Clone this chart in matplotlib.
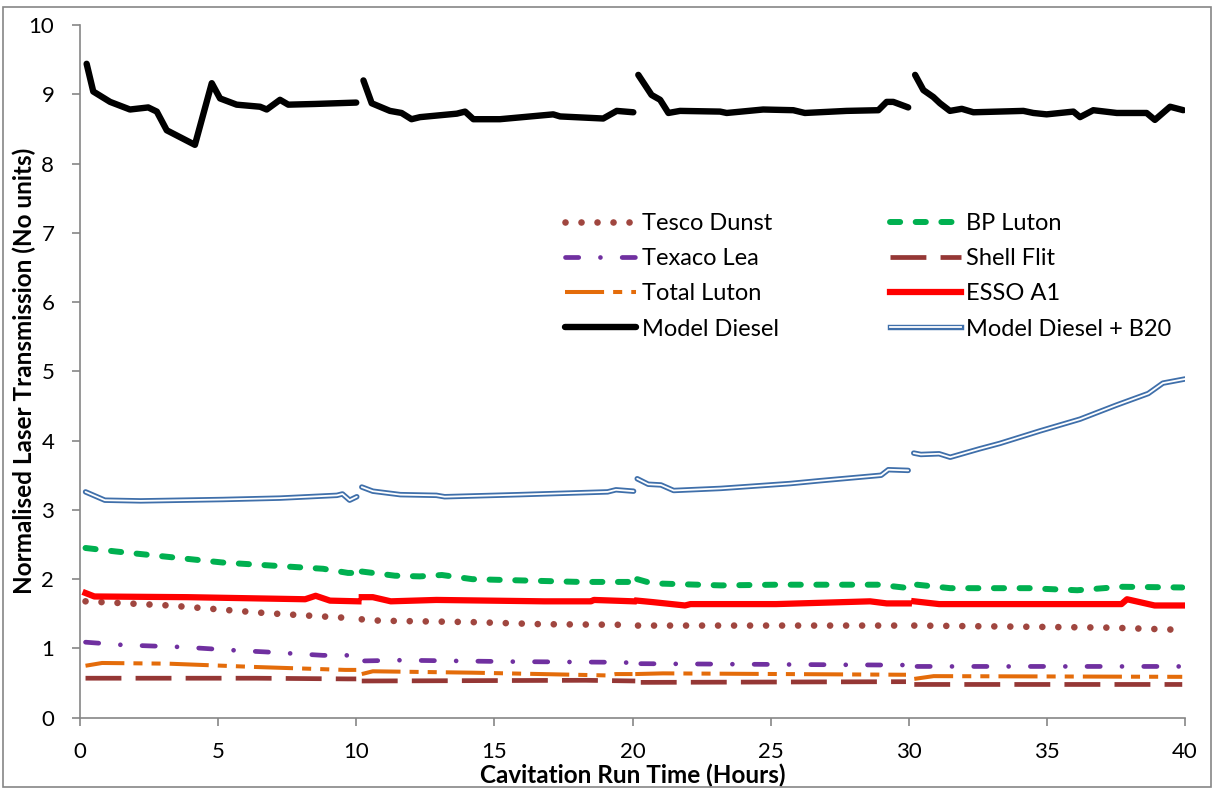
import numpy as np
import matplotlib
matplotlib.use("Agg")
import matplotlib.pyplot as plt
from matplotlib.lines import Line2D
from matplotlib.patches import Rectangle

plt.rcParams['font.family'] = ['Lato', 'DejaVu Sans']

nan = np.nan

# ---------------- data ----------------
tesco_x = [0.2, 3.23, 6.72, 9.7, 10.0, nan, 10.2, 10.86, 14.2, 16.7, 20.0, nan,
           20.2, 30.0, nan, 30.2, 37.3, 39.7]
tesco_y = [1.68, 1.62, 1.51, 1.44, 1.43, nan, 1.42, 1.40, 1.38, 1.35, 1.34, nan,
           1.33, 1.33, nan, 1.33, 1.30, 1.27]

bp_x = [0.2, 1.29, 5.17, 8.8, 9.7, 10.0, nan, 10.2, 11.4, 12.3, 13.1, 14.2, 18.1, 20.0, nan,
        20.17, 20.7, 23.2, 25.2, 28.9, 29.8, 30.0, nan, 30.3, 31.5, 34.4, 34.9, 36.1, 37.7, 39.9]
bp_y = [2.45, 2.40, 2.24, 2.15, 2.09, 2.09, nan, 2.11, 2.05, 2.04, 2.06, 2.00, 1.96, 1.96, nan,
        2.00, 1.94, 1.91, 1.92, 1.92, 1.88, 1.88, nan, 1.92, 1.87, 1.87, 1.86, 1.84, 1.89, 1.88]

texaco_x = [0.2, 1.55, 3.7, 5.7, 6.7, 8.8, 10.0, nan, 10.3, 11.6, 15.5, 19.6, 20.0, nan,
            20.3, 29.3, 30.0, nan, 30.3, 39.8]
texaco_y = [1.09, 1.05, 1.02, 0.97, 0.95, 0.90, 0.90, nan, 0.82, 0.83, 0.81, 0.80, 0.79, nan,
            0.78, 0.76, 0.76, nan, 0.74, 0.74]

shell_x = [0.2, 6.4, 9.7, 10.0, nan, 10.2, 18.3, 20.1, nan, 20.3, 29.9, nan, 30.2, 39.9]
shell_y = [0.57, 0.57, 0.56, 0.56, nan, 0.53, 0.54, 0.53, nan, 0.51, 0.52, nan, 0.48, 0.48]

total_x = [0.2, 0.8, 3.2, 6.5, 9.6, 10.0, nan, 10.2, 10.6, 14.2, 16.7, 19.1, 19.4, 20.0, nan,
           20.1, 21.1, 29.9, nan, 30.2, 30.9, 39.9]
total_y = [0.75, 0.79, 0.78, 0.73, 0.69, 0.69, nan, 0.63, 0.67, 0.65, 0.63, 0.61, 0.63, 0.63, nan,
           0.63, 0.64, 0.62, nan, 0.56, 0.60, 0.59]

esso_x = [0.2, 0.52, 3.9, 8.15, 8.53, 9.05, 10.08, nan, 10.2, 10.6, 11.25, 12.9, 16.8, 18.5, 18.6,
          20.04, nan, 20.17, 20.7, 21.9, 22.1, 25.2, 28.6, 29.2, 30.0, nan, 30.2, 31.1, 37.7, 37.9,
          38.9, 40.0]
esso_y = [1.80, 1.75, 1.74, 1.71, 1.76, 1.69, 1.68, nan, 1.74, 1.74, 1.68, 1.70, 1.68, 1.68, 1.70,
          1.68, nan, 1.69, 1.67, 1.62, 1.64, 1.64, 1.68, 1.65, 1.65, nan, 1.68, 1.64, 1.64, 1.71,
          1.62, 1.62]

model_x = [0.24, 0.48, 1.09, 1.81, 2.47, 2.78, 3.14, 4.16, 4.77, 5.07, 5.67, 6.52, 6.76, 7.24,
           7.54, 8.5, 10.0, nan,
           10.26, 10.56, 11.22, 11.64, 12.0, 12.31, 13.64, 13.94, 14.24, 15.2, 17.13, 17.38,
           18.94, 19.43, 20.03, nan,
           20.21, 20.69, 21.0, 21.3, 21.72, 23.17, 23.41, 24.73, 25.82, 26.24, 27.75, 28.9,
           29.2, 29.44, 29.98, nan,
           30.23, 30.53, 30.89, 31.13, 31.49, 31.92, 32.34, 34.15, 34.51, 34.99, 35.96, 36.2,
           36.68, 37.53, 38.61, 38.91, 39.46, 39.94]
model_y = [9.44, 9.04, 8.89, 8.78, 8.81, 8.75, 8.48, 8.27, 9.16, 8.94, 8.85, 8.82, 8.78, 8.92,
           8.85, 8.86, 8.88, nan,
           9.20, 8.87, 8.76, 8.73, 8.64, 8.67, 8.72, 8.75, 8.64, 8.64, 8.71, 8.68,
           8.65, 8.76, 8.74, nan,
           9.28, 8.99, 8.92, 8.73, 8.76, 8.75, 8.73, 8.78, 8.77, 8.73, 8.76, 8.77,
           8.89, 8.89, 8.81, nan,
           9.28, 9.06, 8.96, 8.87, 8.76, 8.79, 8.74, 8.76, 8.73, 8.71, 8.75, 8.67,
           8.77, 8.73, 8.73, 8.63, 8.82, 8.77]

b20_x = [0.2, 0.9, 2.2, 5.17, 7.24, 9.3, 9.5, 9.76, 10.02, nan,
         10.2, 10.6, 11.6, 12.9, 13.2, 15.9, 19.1, 19.4, 20.04, nan,
         20.17, 20.57, 21.03, 21.49, 23.2, 25.7, 26.75, 29.0, 29.26, 29.98, nan,
         30.18, 30.44, 31.1, 31.5, 32.55, 33.3, 34.75, 36.2, 37.5, 38.67, 39.2, 40.0]
b20_y = [3.26, 3.14, 3.13, 3.15, 3.17, 3.21, 3.23, 3.14, 3.19, nan,
         3.33, 3.27, 3.22, 3.21, 3.19, 3.22, 3.26, 3.29, 3.27, nan,
         3.45, 3.37, 3.36, 3.28, 3.31, 3.38, 3.42, 3.50, 3.58, 3.57, nan,
         3.82, 3.80, 3.81, 3.76, 3.88, 3.96, 4.14, 4.31, 4.51, 4.68, 4.83, 4.89]

x_ticks = [0, 5, 10, 15, 20, 25, 30, 35, 40]
y_ticks = [0, 1, 2, 3, 4, 5, 6, 7, 8, 9, 10]

# ---------------- figure ----------------
W, H = 1214, 790
fig = plt.figure(figsize=(W / 100, H / 100), dpi=100)
ax = fig.add_axes([80 / W, 1 - 717.7 / H, 1105 / W, 692.7 / H])

grey = '#868686'

l_tesco, = ax.plot(tesco_x, tesco_y, color='#A0463F', lw=4.8,
                   dashes=(0.001, 2.4), dash_capstyle='round')
l_bp, = ax.plot(bp_x, bp_y, color='#00B050', lw=4.3,
                dashes=(1.7, 2.6), dash_capstyle='round')
l_texaco, = ax.plot(texaco_x, texaco_y, color='#7030A0', lw=3.4,
                    dashes=(2.8, 4.6, 0.001, 4.6), dash_capstyle='round')
l_shell, = ax.plot(shell_x, shell_y, color='#953735', lw=3.4,
                   dashes=(7.6, 3.0), dash_capstyle='butt')
l_total, = ax.plot(total_x, total_y, color='#E46C0A', lw=2.9,
                   dashes=(9.7, 2.25, 2.25, 2.25, 2.25, 2.25), dash_capstyle='butt')
l_esso, = ax.plot(esso_x, esso_y, color='#FF0000', lw=4.5, solid_joinstyle='round')
l_model, = ax.plot(model_x, model_y, color='black', lw=4.6,
                   solid_joinstyle='round', solid_capstyle='round')
# double line for B20: blue outer + white core
l_b20o, = ax.plot(b20_x, b20_y, color='#3F6FAA', lw=3.9,
                  solid_joinstyle='round', solid_capstyle='round')
l_b20i, = ax.plot(b20_x, b20_y, color='white', lw=1.3,
                  solid_joinstyle='round', solid_capstyle='round')

ax.set_xlim(0, 40)
ax.set_ylim(0, 10)
ax.set_xticks(x_ticks)
ax.set_yticks(y_ticks)
for s in ['top', 'right']:
    ax.spines[s].set_visible(False)
for s in ['left', 'bottom']:
    ax.spines[s].set_color(grey)
    ax.spines[s].set_linewidth(1.2)
ax.tick_params(direction='out', length=5.5, width=1.2, color=grey, labelsize=16)
ax.tick_params(axis='x', pad=12)
ax.tick_params(axis='y', pad=13)

ax.set_xlabel('Cavitation Run Time (Hours)', fontsize=17.5, fontweight='bold')
ax.set_ylabel('Normalised Laser Transmission (No units)', fontsize=17.5, fontweight='bold')
ax.xaxis.set_label_coords(0.5, -0.066)
ax.yaxis.set_label_coords(-0.040, 0.5)

# legend (2 columns, filled row-wise like the original)
b20_handle = (Line2D([], [], color='#3F6FAA', lw=3.9), Line2D([], [], color='white', lw=1.3))
handles = [l_tesco, l_texaco, l_total, l_model, l_bp, l_shell, l_esso, b20_handle]
labels = ['Tesco Dunst', 'Texaco Lea', 'Total Luton', 'Model Diesel',
          'BP Luton', 'Shell Flit', 'ESSO A1', 'Model Diesel + B20']
fig.legend(handles, labels, ncol=2, frameon=False, fontsize=17,
           loc='upper left', bbox_to_anchor=(565 / W, 1 - 213 / H),
           borderpad=0, borderaxespad=0, handlelength=3.0, handletextpad=0.25,
           columnspacing=4.7, labelspacing=0.6)

# thin frame around the whole chart
fig.add_artist(Rectangle((3 / W, 3 / H), 1 - 6 / W, 1 - 10 / H, transform=fig.transFigure,
                         fill=False, edgecolor=grey, lw=1.2))

fig.savefig('out.png', dpi=100)
